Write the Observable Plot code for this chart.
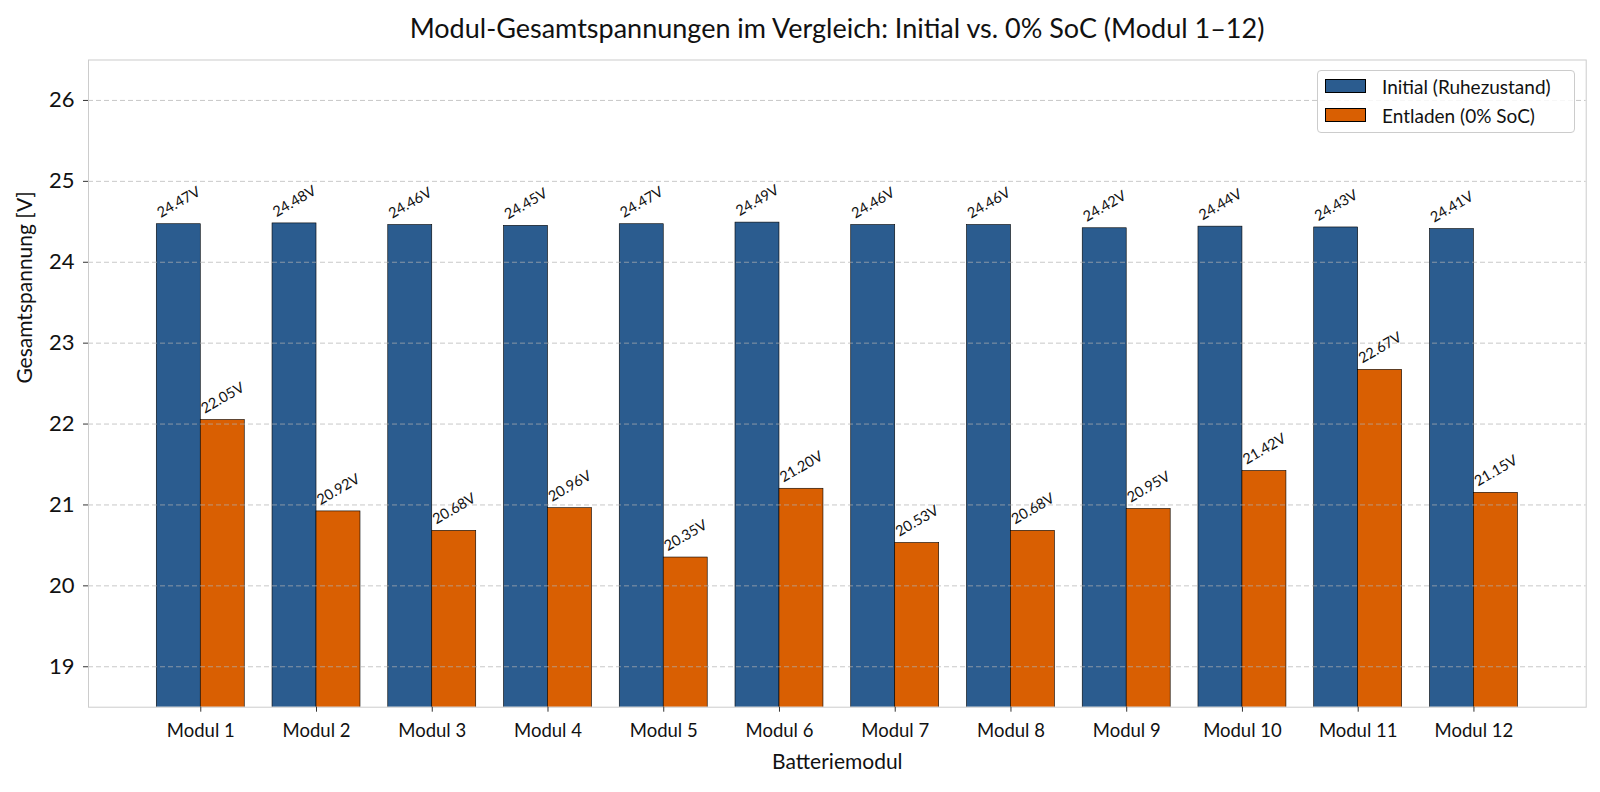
<!DOCTYPE html>
<html>
<head>
<meta charset="utf-8">
<script src="https://cdn.jsdelivr.net/npm/d3@7"></script>
<script src="https://cdn.jsdelivr.net/npm/@observablehq/plot@0.6"></script>
<style>
  html, body { margin: 0; padding: 0; background: #fff; }
  body { font-family: Lato, "Open Sans", sans-serif; width: 1600px; height: 792px; position: relative; overflow: hidden; }
  #title { position: absolute; left: 88px; width: 1498px; top: 0; height: 50px; line-height: 55px; text-align: center; font-size: 27px; color: #111; }
  #chart { position: absolute; left: 0; top: 50px; }
  #legend { position: absolute; left: 1317px; top: 70px; width: 258px; height: 63px; border: 1px solid #ccc; border-radius: 4px; background: rgba(255,255,255,0.85); box-sizing: border-box; }
  .item { position: absolute; left: 7px; height: 16px; display: flex; align-items: center; font-size: 19px; color: #111; }
  .sw { width: 41px; height: 14px; border: 0.8px solid #000; box-sizing: border-box; margin-right: 16px; }
</style>
</head>
<body>
<div id="title">Modul-Gesamtspannungen im Vergleich: Initial vs. 0% SoC (Modul 1–12)</div>
<div id="chart"></div>
<div id="legend"></div>
<script>
const modules = ["Modul 1","Modul 2","Modul 3","Modul 4","Modul 5","Modul 6","Modul 7","Modul 8","Modul 9","Modul 10","Modul 11","Modul 12"];
const initialV = [24.47, 24.48, 24.46, 24.45, 24.47, 24.49, 24.46, 24.46, 24.42, 24.44, 24.43, 24.41];
const dischargedV = [22.05, 20.92, 20.68, 20.96, 20.35, 21.20, 20.53, 20.68, 20.95, 21.42, 22.67, 21.15];
const seriesNames = ["Initial (Ruhezustand)", "Entladen (0% SoC)"];
const seriesColors = ["#2b5c8f", "#d95f02"];
const yTicks = [19, 20, 21, 22, 23, 24, 25, 26];
const yDomain = [18.5, 26.5];
const xLabel = "Batteriemodul";
const yLabel = "Gesamtspannung [V]";

const initialRows = modules.map((m, i) => ({module: m, value: initialV[i], series: seriesNames[0]}));
const dischargedRows = modules.map((m, i) => ({module: m, value: dischargedV[i], series: seriesNames[1]}));

const W = 1600, H = 742;
const mL = 88, mR = 14.3, mT = 9.5, mB = 85.3;
const padInner = 0.24, padOuter = 0.59;
const step = (W - mL - mR) / (modules.length - padInner + 2 * padOuter);
const half = step * (1 - padInner) / 2;

const fmt = d => d.value.toFixed(2) + "V";

const chart = Plot.plot({
  width: W, height: H,
  marginLeft: mL, marginRight: mR, marginTop: mT, marginBottom: mB,
  style: {fontFamily: "Lato, 'Open Sans', sans-serif", color: "#111", background: "#fff"},
  x: {domain: modules, paddingInner: padInner, paddingOuter: padOuter, round: false, axis: null},
  y: {domain: yDomain, axis: null},
  color: {domain: seriesNames, range: seriesColors},
  marks: [
    Plot.barY(initialRows, {x: "module", y: "value", fill: "series", stroke: "#000", strokeWidth: 0.6, insetLeft: 0, insetRight: half, clip: true}),
    Plot.barY(dischargedRows, {x: "module", y: "value", fill: "series", stroke: "#000", strokeWidth: 0.6, insetLeft: half, insetRight: 0, clip: true}),
    Plot.ruleY(yTicks, {stroke: "#b0b0b0", strokeOpacity: 0.7, strokeWidth: 1, strokeDasharray: "5,3"}),
    Plot.text(initialRows, {x: "module", y: "value", text: fmt, dx: -half / 2, dy: -22, rotate: -30, fontSize: 14.5, fill: "#111"}),
    Plot.text(dischargedRows, {x: "module", y: "value", text: fmt, dx: half / 2, dy: -22, rotate: -30, fontSize: 14.5, fill: "#111"}),
    Plot.frame({stroke: "#ccc", strokeWidth: 1}),
    Plot.axisY({ticks: yTicks, tickSize: 5, tickPadding: 9, fontSize: 22, label: null, stroke: "#333"}),
    Plot.axisX({tickSize: 5, tickPadding: 12, fontSize: 18.5, label: null, stroke: "#333"}),
    Plot.text([xLabel], {text: d => d, frameAnchor: "bottom", dy: 62, fontSize: 21, fill: "#111"}),
    Plot.text([yLabel], {text: d => d, frameAnchor: "left", dx: -63, rotate: -90, fontSize: 21, fill: "#111"})
  ]
});
document.getElementById("chart").appendChild(chart);

const legend = document.getElementById("legend");
seriesNames.forEach((name, i) => {
  const item = document.createElement("div");
  item.className = "item";
  item.style.top = (7 + i * 29) + "px";
  const sw = document.createElement("div");
  sw.className = "sw";
  sw.style.background = seriesColors[i];
  const lbl = document.createElement("span");
  lbl.textContent = name;
  item.appendChild(sw);
  item.appendChild(lbl);
  legend.appendChild(item);
});
</script>
</body>
</html>
